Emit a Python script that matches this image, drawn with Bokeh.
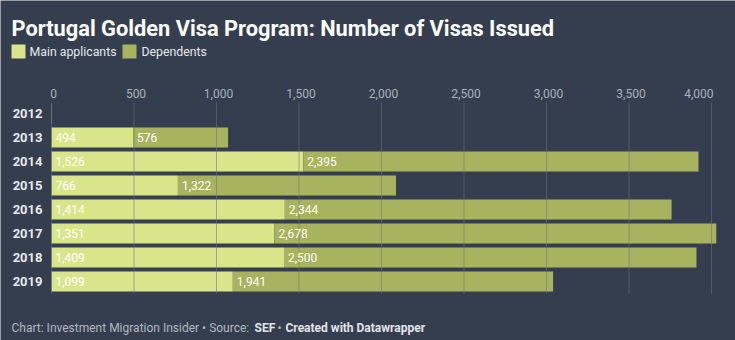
from bokeh.plotting import figure
from bokeh.models import Range1d, ColumnDataSource, Label
from bokeh.embed import file_html
from bokeh.resources import INLINE
from bokeh.core.properties import value

# ---- data ----
years = ["2012", "2013", "2014", "2015", "2016", "2017", "2018", "2019"]
main_applicants = [2, 494, 1526, 766, 1414, 1351, 1409, 1099]
dependents = [0, 576, 2395, 1322, 2344, 2678, 2500, 1941]
x_ticks = [0, 500, 1000, 1500, 2000, 2500, 3000, 3500, 4000]
x_tick_labels = ["0", "500", "1,000", "1,500", "2,000", "2,500", "3,000", "3,500", "4,000"]

# ---- layout constants (pixels) ----
W, H = 735, 340
X0_PX, PX_PER_UNIT = 51.0, 0.165
ROW0_PX, ROW_PX = 113.0, 24.0
BG = "#343e4f"
C_MAIN = "#d9e58b"
C_DEP = "#a7b35e"
FONT = "Roboto"


def px2x(px):
    return (px - X0_PX) / PX_PER_UNIT


def py2y(py):
    return (py - ROW0_PX) / ROW_PX


p = figure(width=W, height=H, output_backend="svg", toolbar_location=None,
           x_range=Range1d(px2x(0), px2x(W)), y_range=Range1d(py2y(H), py2y(0)),
           min_border=0, min_border_left=0, min_border_right=0,
           min_border_top=0, min_border_bottom=0)
p.axis.visible = False
p.grid.visible = False
p.outline_line_color = None
p.background_fill_color = BG
p.border_fill_color = BG

rows = list(range(len(years)))
fmt = lambda v: f"{v:,}"
src = ColumnDataSource(dict(
    row=rows,
    main=main_applicants,
    dep_end=[m + d for m, d in zip(main_applicants, dependents)],
    zero=[0] * len(rows),
))
p.hbar(y="row", left="zero", right="main", height=20 / ROW_PX, source=src,
       fill_color=C_MAIN, line_color=None)
p.hbar(y="row", left="main", right="dep_end", height=20 / ROW_PX, source=src,
       fill_color=C_DEP, line_color=None)

# gridlines over bars
p.segment(x0=x_ticks, x1=x_ticks, y0=[py2y(102)] * len(x_ticks),
          y1=[py2y(293)] * len(x_ticks), line_color="#6b7280", line_alpha=0.55,
          line_width=1)

# value labels
lab_rows = [r for r in rows if main_applicants[r] >= 100]
p.text(x=[0] * len(lab_rows), y=lab_rows,
       text=[fmt(main_applicants[r]) for r in lab_rows], x_offset=4,
       text_font=value(FONT), text_font_size="12px", text_color="#ffffff",
       text_baseline="middle", text_align="left")
dep_rows = [r for r in rows if dependents[r] >= 100]
p.text(x=[main_applicants[r] for r in dep_rows], y=dep_rows,
       text=[fmt(dependents[r]) for r in dep_rows], x_offset=4,
       text_font=value(FONT), text_font_size="12px", text_color="#ffffff",
       text_baseline="middle", text_align="left")

# year labels
p.text(x=[0] * len(rows), y=rows, text=years, x_offset=-9,
       text_font=value(FONT), text_font_size="13px", text_font_style="bold",
       text_color="#e8eaed", text_baseline="middle", text_align="right")

# tick labels
aligns = ["center"] * (len(x_ticks) - 1) + ["right"]
tsrc = ColumnDataSource(dict(x=x_ticks, y=[py2y(93)] * len(x_ticks),
                             t=x_tick_labels, a=aligns))
p.text(x="x", y="y", text="t", text_align="a", source=tsrc, x_offset=2,
       text_font=value(FONT), text_font_size="12px", text_color="#aab1bb",
       text_baseline="middle")

# title
p.add_layout(Label(x=px2x(11), y=py2y(28), text="Portugal Golden Visa Program: Number of Visas Issued",
                   text_font=FONT, text_font_size="21.8px", text_font_style="bold",
                   text_color="#ffffff", text_baseline="alphabetic"))

# legend
p.quad(left=[px2x(11), px2x(122)], right=[px2x(25), px2x(136)],
       top=[py2y(44)] * 2, bottom=[py2y(58)] * 2, fill_color=[C_MAIN, C_DEP],
       line_color=None)
p.text(x=[px2x(29), px2x(141)], y=[py2y(51)] * 2, text=["Main applicants", "Dependents"],
       text_font=value(FONT), text_font_size="12.3px", text_color="#e6e8eb",
       text_baseline="middle", text_align="left")

# footer
foot_y = py2y(327)
FS = "12px"
p.add_layout(Label(x=px2x(11), y=foot_y, text="Chart: Investment Migration Insider \u2022 Source:",
                   text_font=FONT, text_font_size=FS, text_color="#b3b8c0",
                   text_baseline="alphabetic"))
p.add_layout(Label(x=px2x(254), y=foot_y, text="SEF",
                   text_font=FONT, text_font_size=FS, text_font_style="bold",
                   text_color="#e2e5e9", text_baseline="alphabetic"))
p.add_layout(Label(x=px2x(277), y=foot_y, text="\u2022",
                   text_font=FONT, text_font_size=FS, text_color="#b3b8c0",
                   text_baseline="alphabetic"))
p.add_layout(Label(x=px2x(285), y=foot_y, text="Created with Datawrapper",
                   text_font=FONT, text_font_size=FS, text_font_style="bold",
                   text_color="#e2e5e9", text_baseline="alphabetic"))

open("out.html", "w").write(file_html(p, INLINE))
